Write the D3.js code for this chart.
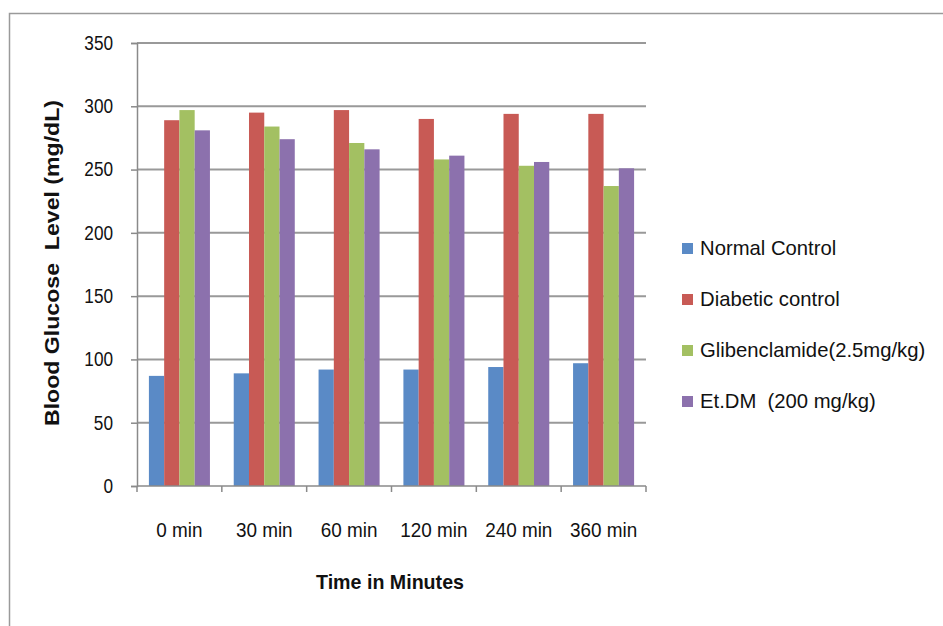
<!DOCTYPE html>
<html>
<head>
<meta charset="utf-8">
<script src="https://cdn.jsdelivr.net/npm/d3@7"></script>
<style>
  html, body { margin: 0; padding: 0; background: #fff; }
  svg { display: block; }
  text { font-family: "Liberation Sans", Arial, sans-serif; fill: #111; }
</style>
</head>
<body>
<svg id="chart" width="943" height="626"></svg>
<script>
// Time points on the x axis
const timePoints = ["0 min", "30 min", "60 min", "120 min", "240 min", "360 min"];

// Group names, in legend order
const groupNames = ["Normal Control", "Diabetic control", "Glibenclamide(2.5mg/kg)", "Et.DM  (200 mg/kg)"];

// Blood glucose (mg/dL) per group at each time point
const normalControl   = [87, 89, 92, 92, 94, 97];
const diabeticControl = [289, 295, 297, 290, 294, 294];
const glibenclamide   = [297, 284, 271, 258, 253, 237];
const etDM            = [281, 274, 266, 261, 256, 251];

// Y axis ticks
const yTicks = [0, 50, 100, 150, 200, 250, 300, 350];

const groupColors = ["#5A8AC6", "#C85A55", "#A3C062", "#8C71AD"];
const seriesValues = [normalControl, diabeticControl, glibenclamide, etDM];

// Condense text horizontally to a narrow, tall letterform
function condense(sel, f) {
  sel.each(function () {
    const w = this.getComputedTextLength();
    d3.select(this).attr("textLength", w * f).attr("lengthAdjust", "spacingAndGlyphs");
  });
}

const svg = d3.select("#chart");

// Outer chart frame (runs off the right and bottom edges)
svg.append("path")
  .attr("d", "M943,13.5 H9.5 V626")
  .attr("fill", "none").attr("stroke", "#9a9a9a").attr("stroke-width", 1.5);

const plot = { left: 137, right: 646, top: 43, bottom: 486 };

const x0 = d3.scaleBand().domain(timePoints).range([plot.left, plot.right]).paddingInner(0).paddingOuter(0);
const x1 = d3.scaleBand().domain(d3.range(groupNames.length)).range([0, x0.bandwidth()])
  .paddingInner(0).paddingOuter(0.78);
const y = d3.scaleLinear().domain([0, 350]).range([plot.bottom, plot.top]);

// Horizontal gridlines
svg.append("g")
  .selectAll("line")
  .data(yTicks.filter(d => d > 0))
  .join("line")
  .attr("x1", plot.left).attr("x2", plot.right)
  .attr("y1", d => y(d)).attr("y2", d => y(d))
  .attr("stroke", "#999").attr("stroke-width", 2);

// Bars
const rows = timePoints.map((t, i) => ({ t, vals: seriesValues.map(s => s[i]) }));
svg.append("g")
  .selectAll("g")
  .data(rows)
  .join("g")
  .attr("transform", d => `translate(${x0(d.t)},0)`)
  .selectAll("rect")
  .data(d => d.vals.map((v, k) => ({ v, k })))
  .join("rect")
  .attr("x", d => x1(d.k))
  .attr("width", x1.bandwidth())
  .attr("y", d => y(d.v))
  .attr("height", d => y(0) - y(d.v))
  .attr("fill", d => groupColors[d.k]);

// Y axis
const yAxis = svg.append("g")
  .attr("transform", `translate(${plot.left},0)`)
  .call(d3.axisLeft(y).tickValues(yTicks).tickSize(6).tickPadding(18));
yAxis.select(".domain").attr("stroke", "#8a8a8a").attr("stroke-width", 1.5);
yAxis.selectAll(".tick line").attr("stroke", "#8a8a8a").attr("stroke-width", 1.5);
yAxis.selectAll("text").attr("font-size", 20).attr("fill", "#111")
  .style("font-family", '"Liberation Sans", Arial, sans-serif')
  .call(condense, 0.86);

// X axis: category labels centred on groups, ticks on the group boundaries
const xAxisG = svg.append("g").attr("transform", `translate(0,${plot.bottom})`);
xAxisG.append("line")
  .attr("x1", plot.left).attr("x2", plot.right)
  .attr("stroke", "#8a8a8a").attr("stroke-width", 1.5);
const boundaries = timePoints.map(t => x0(t)).concat([x0(timePoints[timePoints.length - 1]) + x0.bandwidth()]);
xAxisG.selectAll("line.tk")
  .data(boundaries)
  .join("line").attr("class", "tk")
  .attr("x1", d => d).attr("x2", d => d)
  .attr("y1", 0).attr("y2", 6)
  .attr("stroke", "#8a8a8a").attr("stroke-width", 1.5);
xAxisG.selectAll("text")
  .data(timePoints)
  .join("text")
  .attr("x", d => x0(d) + x0.bandwidth() / 2)
  .attr("y", 51)
  .attr("text-anchor", "middle")
  .attr("font-size", 21)
  .text(d => d)
  .call(condense, 0.9);

// Axis titles
svg.append("text")
  .attr("transform", `translate(59,263) rotate(-90)`)
  .attr("text-anchor", "middle")
  .attr("font-size", 21).attr("font-weight", "bold")
  .attr("textLength", 326).attr("lengthAdjust", "spacingAndGlyphs")
  .style("white-space", "pre")
  .text("Blood Glucose  Level (mg/dL)");

svg.append("text")
  .attr("x", 390).attr("y", 589)
  .attr("text-anchor", "middle")
  .attr("font-size", 21).attr("font-weight", "bold")
  .attr("textLength", 148).attr("lengthAdjust", "spacingAndGlyphs")
  .text("Time in Minutes");

// Legend
const legend = svg.append("g").attr("transform", "translate(682,0)");
const li = legend.selectAll("g")
  .data(groupNames)
  .join("g")
  .attr("transform", (d, i) => `translate(0,${255 + i * 51})`);
li.append("rect")
  .attr("x", 0).attr("y", -12).attr("width", 11).attr("height", 11)
  .attr("fill", (d, i) => groupColors[i]);
li.append("text")
  .attr("x", 18).attr("y", 0)
  .attr("font-size", 21)
  .style("white-space", "pre")
  .text(d => d)
  .call(condense, 0.965);
</script>
</body>
</html>
